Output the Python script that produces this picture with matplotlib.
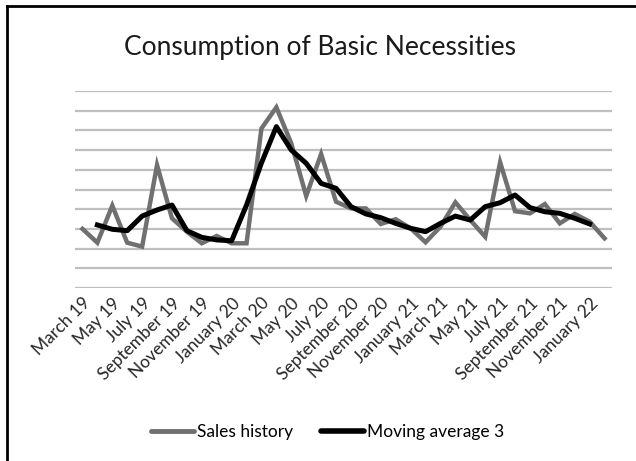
import matplotlib.pyplot as plt
from matplotlib.lines import Line2D

plt.rcParams['font.family'] = ['Lato', 'DejaVu Sans']

months = ["March 19", "April 19", "May 19", "June 19", "July 19", "August 19",
          "September 19", "October 19", "November 19", "December 19", "January 20", "February 20",
          "March 20", "April 20", "May 20", "June 20", "July 20", "August 20",
          "September 20", "October 20", "November 20", "December 20", "January 21", "February 21",
          "March 21", "April 21", "May 21", "June 21", "July 21", "August 21",
          "September 21", "October 21", "November 21", "December 21", "January 22", "February 22"]

# (arbitrary units, grid every 10)
sales = [30, 23, 41.8, 23, 21, 62.4, 35.4, 28.6, 22.7, 26.4, 22.7, 22.7,
         81, 91.7, 73.4, 46.7, 68, 43.8, 40.4, 40.4, 32.5, 34.9, 30.3, 23.2,
         31.1, 43.5, 34.5, 26, 63.8, 39, 37.9, 42.6, 32.8, 37.6, 33.7, 25.2]

# centred 3-point average, first and last month empty
ma3 = [None, 32, 29.8, 29.1, 36.5, 39.6, 42.1, 29.1, 25.7, 24.4, 24, 42.1,
       63.5, 81.9, 70, 63.3, 53.1, 50.6, 41.3, 37.6, 35.7, 32.8, 30.3, 28.6,
       32.8, 36.5, 34.5, 41.3, 43.3, 47.2, 40.8, 38.7, 37.9, 35.4, 32.5, None]

x = list(range(len(months)))
ma_x = [i for i, v in zip(x, ma3) if v is not None]
ma_y = [v for v in ma3 if v is not None]

fig = plt.figure(figsize=(6.36, 4.61), dpi=100)
ax = fig.add_axes([75 / 636, 1 - 288 / 461, 537 / 636, 197 / 461])

for g in range(0, 101, 10):
    ax.axhline(g, color='#bfbfbf', lw=1.6, zorder=1)

ax.plot(x, sales, color='#707070', lw=3.2, solid_joinstyle='miter', zorder=3)
ax.plot(ma_x, ma_y, color='black', lw=3.6, zorder=4)

ax.set_xlim(-0.5, len(months) - 0.5)
ax.set_ylim(0, 100)
ax.set_yticks([])
ax.set_xticks(x[::2])
ax.set_xticklabels(months[::2], rotation=45, ha='right', va='top',
                   rotation_mode='anchor', fontsize=12.5, color='#262626')
ax.tick_params(axis='x', length=0, pad=5)
for s in ax.spines.values():
    s.set_visible(False)

fig.text(0.503, 1 - 47 / 461, "Consumption of Basic Necessities",
         ha='center', va='center', fontsize=19, color='#1a1a1a')

handles = [Line2D([], [], color='#707070', lw=3.5, solid_capstyle='round'),
           Line2D([], [], color='black', lw=4, solid_capstyle='round')]
fig.legend(handles, ["Sales history", "Moving average 3"], loc='center',
           bbox_to_anchor=(0.515, 1 - 432 / 461), ncol=2, frameon=False,
           fontsize=12.5, handlelength=2.5, handletextpad=0.15, columnspacing=1.6)

# chart border (left and top edges only)
fig.add_artist(Line2D([7 / 636, 7 / 636], [0, 1 - 6.5 / 461], color='black', lw=2))
fig.add_artist(Line2D([7 / 636, 1], [1 - 6.5 / 461, 1 - 6.5 / 461], color='black', lw=2))

fig.savefig('out.png', dpi=100)
